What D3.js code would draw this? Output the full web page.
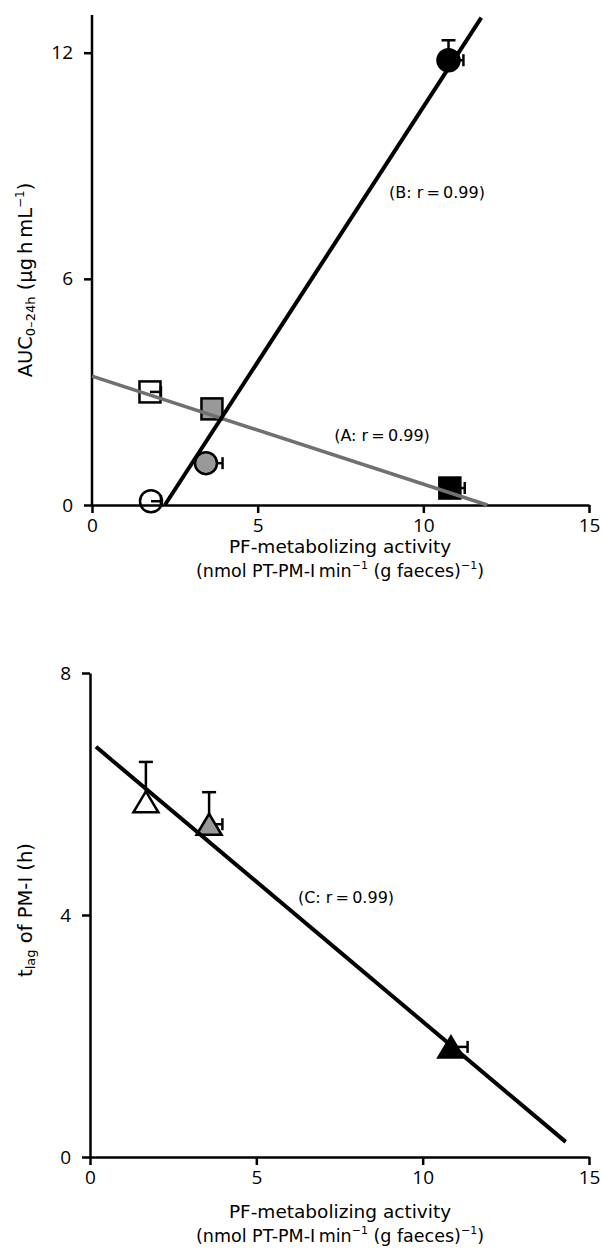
<!DOCTYPE html>
<html>
<head>
<meta charset="utf-8">
<script src="https://cdn.jsdelivr.net/npm/d3@7"></script>
<style>
  body { margin: 0; background: #fff; }
  svg text { font-family: "DejaVu Sans", sans-serif; fill: #000; }
  svg .tick text { font-family: "Open Sans", "Noto Sans", sans-serif; }
</style>
</head>
<body>
<div class="chart"></div>
<script>
// ticks
const xTicks = [0, 5, 10, 15];
const aucTicks = [0, 6, 12];
const tlagTicks = [0, 4, 8];

// circles (series B)
const circleActivity = [1.78, 3.44, 10.76];
const circleAuc = [0.1, 1.11, 11.8];
const circleXErr = [0.3, 0.5, 0.45];
const circleYErr = [0, 0, 0.53];
const circleFill = ["#fff", "#999", "#000"];

// squares (series A)
const squareActivity = [1.75, 3.62, 10.8];
const squareAuc = [3.0, 2.55, 0.45];
const squareXErr = [0.33, 0, 0.45];
const squareFill = ["#fff", "#999", "#000"];

// triangles (series C)
const triActivity = [1.68, 3.58, 10.85];
const triTlag = [5.87, 5.5, 1.82];
const triXErr = [0, 0.4, 0.5];
const triYErr = [0.66, 0.53, 0];
const triFill = ["#fff", "#999", "#000"];

// regression line ends
const lineAx = [0, 11.93], lineAy = [3.42, 0];
const lineBx = [2.2, 11.75], lineBy = [0, 12.93];
const lineCx = [0.18, 14.3], lineCy = [6.78, 0.25];

const width = 602, height = 1257;

var svg = d3.select(".chart").append("svg")
  .attr("width", width)
  .attr("height", height);

// scales
var x1 = d3.scaleLinear().domain([0, 15]).range([92, 589]);
var y1 = d3.scaleLinear().domain([0, 13]).range([505, 15]);
var x2 = d3.scaleLinear().domain([0, 15]).range([90, 589]);
var y2 = d3.scaleLinear().domain([0, 8]).range([1157, 673]);

const drawAxes = (x, y, yTicks) => {
  var gx = svg.append("g")
    .attr("transform", "translate(0," + y(0) + ")")
    .call(d3.axisBottom(x).tickValues(xTicks).tickSize(8).tickSizeOuter(0).tickFormat(d3.format("d")));
  var gy = svg.append("g")
    .attr("transform", "translate(" + x(0) + ",0)")
    .call(d3.axisLeft(y).tickValues(yTicks).tickSize(8).tickSizeOuter(0).tickFormat(d3.format("d")));
  [gx, gy].forEach(g => {
    g.attr("font-size", null).attr("font-family", null);
    g.select(".domain").attr("stroke", "#000").attr("stroke-width", 2.5);
    g.selectAll(".tick line").attr("stroke", "#000").attr("stroke-width", 2.5);
    g.selectAll(".tick text").style("font-size", "19px");
  });
  gx.selectAll(".tick text").attr("y", 12).attr("dy", "0.8em");
  gy.selectAll(".tick text").attr("x", -19);
  return [gx, gy];
};

var topAxes = drawAxes(x1, y1, aucTicks);
// y axis of top chart runs past 12
topAxes[1].select(".domain").attr("d", "M0," + y1(0) + "V" + y1(13));
var botAxes = drawAxes(x2, y2, tlagTicks);

// error bar helper
const errBar = (g, x, y, cx, cy, xe, ye) => {
  const cap = 7;
  if (xe > 0) {
    g.append("line").attr("x1", x(cx)).attr("x2", x(cx + xe)).attr("y1", y(cy)).attr("y2", y(cy));
    g.append("line").attr("x1", x(cx + xe)).attr("x2", x(cx + xe)).attr("y1", y(cy) - cap + 1).attr("y2", y(cy) + cap - 1);
  }
  if (ye > 0) {
    g.append("line").attr("x1", x(cx)).attr("x2", x(cx)).attr("y1", y(cy)).attr("y2", y(cy + ye));
    g.append("line").attr("x1", x(cx) - cap).attr("x2", x(cx) + cap).attr("y1", y(cy + ye)).attr("y2", y(cy + ye));
  }
};

// ---- top chart ----
var eb1 = svg.append("g").attr("stroke", "#000").attr("stroke-width", 2.5);
circleActivity.forEach((a, i) => errBar(eb1, x1, y1, a, circleAuc[i], circleXErr[i], circleYErr[i]));
squareActivity.forEach((a, i) => errBar(eb1, x1, y1, a, squareAuc[i], squareXErr[i], 0));

svg.append("g").selectAll("rect.sq")
  .data(squareActivity)
  .enter()
  .append("rect")
  .attr("class", "sq")
  .attr("x", (d) => x1(d) - 10.5)
  .attr("y", (d, i) => y1(squareAuc[i]) - 10.5)
  .attr("width", 21)
  .attr("height", 21)
  .attr("fill", (d, i) => squareFill[i] === "#fff" ? "none" : squareFill[i])
  .attr("stroke", "#000")
  .attr("stroke-width", 2.5);

svg.append("g").selectAll("circle.dot")
  .data(circleActivity)
  .enter()
  .append("circle")
  .attr("class", "dot")
  .attr("cx", (d) => x1(d))
  .attr("cy", (d, i) => y1(circleAuc[i]))
  .attr("r", 11)
  .attr("fill", (d, i) => circleFill[i] === "#fff" ? "none" : circleFill[i])
  .attr("stroke", "#000")
  .attr("stroke-width", 2.5);

// regression lines on top of the markers
svg.append("line")
  .attr("x1", x1(lineAx[0])).attr("y1", y1(lineAy[0]))
  .attr("x2", x1(lineAx[1])).attr("y2", y1(lineAy[1]))
  .attr("stroke", "#707070").attr("stroke-width", 3.5);
svg.append("line")
  .attr("x1", x1(lineBx[0])).attr("y1", y1(lineBy[0]))
  .attr("x2", x1(lineBx[1])).attr("y2", y1(lineBy[1]))
  .attr("stroke", "#000").attr("stroke-width", 4);

svg.append("text").attr("x", 437).attr("y", 198).attr("text-anchor", "middle")
  .style("font-size", "16px").text("(B: r\u2009=\u20090.99)");
svg.append("text").attr("x", 382).attr("y", 441).attr("text-anchor", "middle")
  .style("font-size", "16px").text("(A: r\u2009=\u20090.99)");

// top axis titles
var yt1 = svg.append("text")
  .attr("transform", "translate(32,280) rotate(-90)")
  .attr("text-anchor", "middle")
  .style("font-size", "19.5px");
yt1.append("tspan").text("AUC");
yt1.append("tspan").attr("dy", 3).style("font-size", "13px").text("0\u201324h");
yt1.append("tspan").attr("dy", -3).text(" (\u03bcg\u2009h\u2009mL");
yt1.append("tspan").attr("dy", -8).style("font-size", "12px").text("\u22121");
yt1.append("tspan").attr("dy", 8).text(")");

const xTitle = (cx, cy) => {
  svg.append("text").attr("x", cx).attr("y", cy).attr("text-anchor", "middle")
    .style("font-size", "18.5px").text("PF-metabolizing activity");
  var t = svg.append("text").attr("x", cx).attr("y", cy + 24).attr("text-anchor", "middle")
    .style("font-size", "17.5px");
  t.append("tspan").text("(nmol PT-PM-I\u2009min");
  t.append("tspan").attr("dy", -8).style("font-size", "11px").text("\u22121");
  t.append("tspan").attr("dy", 8).text(" (g faeces)");
  t.append("tspan").attr("dy", -8).style("font-size", "11px").text("\u22121");
  t.append("tspan").attr("dy", 8).text(")");
};
xTitle(340, 553);

// ---- bottom chart ----
var eb2 = svg.append("g").attr("stroke", "#000").attr("stroke-width", 2.5);
triActivity.forEach((a, i) => errBar(eb2, x2, y2, a, triTlag[i], triXErr[i], triYErr[i]));

const triPath = (cx, cy) => {
  const w = 12.5, h = 10.5;
  return "M" + (cx - w) + "," + (cy + h) + "L" + cx + "," + (cy - h) + "L" + (cx + w) + "," + (cy + h) + "Z";
};
svg.append("g").selectAll("path.tri")
  .data(triActivity)
  .enter()
  .append("path")
  .attr("class", "tri")
  .attr("d", (d, i) => triPath(x2(d), y2(triTlag[i])))
  .attr("fill", (d, i) => triFill[i])
  .attr("stroke", "#000")
  .attr("stroke-width", 2.5)
  .attr("stroke-linejoin", "miter");

svg.append("line")
  .attr("x1", x2(lineCx[0])).attr("y1", y2(lineCy[0]))
  .attr("x2", x2(lineCx[1])).attr("y2", y2(lineCy[1]))
  .attr("stroke", "#000").attr("stroke-width", 4);

svg.append("text").attr("x", 346).attr("y", 903).attr("text-anchor", "middle")
  .style("font-size", "16px").text("(C: r\u2009=\u20090.99)");

var yt2 = svg.append("text")
  .attr("transform", "translate(32,910) rotate(-90)")
  .attr("text-anchor", "middle")
  .style("font-size", "19.5px");
yt2.append("tspan").text("t");
yt2.append("tspan").attr("dy", 3).style("font-size", "13px").text("lag");
yt2.append("tspan").attr("dy", -3).text(" of PM-I (h)");

xTitle(340, 1218);
</script>
</body>
</html>
